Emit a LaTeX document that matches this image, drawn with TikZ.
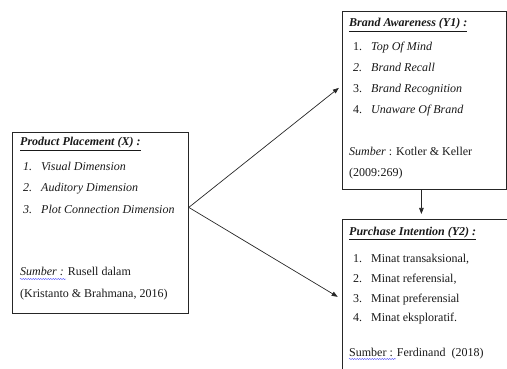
\documentclass[tikz,border=0pt]{standalone}
\usepackage{fontspec}
\setmainfont{Liberation Serif}
\usetikzlibrary{arrows.meta}
\usetikzlibrary{decorations.pathmorphing}

\newcommand{\itm}[2]{\makebox[18pt][l]{#1}#2}

\begin{document}
\begin{tikzpicture}[x=1pt,y=-1pt,font=\fontsize{12}{14}\selectfont,
  box/.style={draw=black!85,line width=0.8pt,anchor=north west,inner sep=0pt},
  txt/.style={anchor=base west,inner sep=0pt,text=black!90},
  arr/.style={-{Triangle[length=6pt,width=4.5pt]},line width=0.7pt,draw=black!85},
  wavy/.style={draw=blue!70,line width=0.4pt,decorate,
    decoration={snake,amplitude=0.6pt,segment length=2.5pt}}]
  \clip (0,0) rectangle (507,369);
  % the three boxes
  \node[box,minimum width=176pt,minimum height=181pt] (placement) at (12,132) {};
  \node[box,minimum width=164pt,minimum height=178pt] (awareness) at (342,11) {};
  \node[box,minimum width=170pt,minimum height=190pt] (intention) at (342,219) {};

  % X
  \node[txt] (px)  at (20,146) {\underline{\textbf{\textit{Product Placement (X) :}}}};
  \node[txt] (px1) at (23,171) {\itshape\itm{1.}{Visual Dimension}};
  \node[txt] (px2) at (23,192) {\itshape\itm{2.}{Auditory Dimension}};
  \node[txt] (px3) at (23,213) {\itshape\itm{3.}{Plot Connection Dimension}};
  \node[txt] (pxs) at (20,276) {\textit{Sumber :} Rusell dalam};
  \node[txt] (pxr) at (20,297) {(Kristanto \& Brahmana, 2016)};
  \draw[wavy] ([yshift=-3pt]pxs.base west) -- ++(46,0);

  % Y1
  \node[txt] (ya)  at (349,27)  {\underline{\textbf{\textit{Brand Awareness (Y1) :}}}};
  \node[txt] (ya1) at (353,51)  {\itm{1.}{\textit{Top Of Mind}}};
  \node[txt] (ya2) at (353,72)  {\itm{\textit{2.}}{\textit{Brand Recall}}};
  \node[txt] (ya3) at (353,93)  {\itm{3.}{\textit{Brand Recognition}}};
  \node[txt] (ya4) at (353,114) {\itm{4.}{\textit{Unaware Of Brand}}};
  \node[txt] (yas) at (349,156) {\textit{Sumber} : Kotler \& Keller};
  \node[txt] (yar) at (349,177) {(2009:269)};

  % Y2
  \node[txt] (yb)  at (349,235) {\underline{\textbf{\textit{Purchase Intention (Y2) :}}}};
  \node[txt] (yb1) at (353,262) {\itm{1.}{Minat transaksional,}};
  \node[txt] (yb2) at (353,283) {\itm{2.}{Minat referensial,}};
  \node[txt] (yb3) at (353,302) {\itm{3.}{Minat preferensial}};
  \node[txt] (yb4) at (353,321) {\itm{4.}{Minat eksploratif.}};
  \node[txt] (ybs) at (349,356) {Sumber : Ferdinand\ \ (2018)};
  \draw[wavy] ([yshift=-3pt]ybs.base west) -- ++(47,0);

  % arrows
  \coordinate (fork) at ([yshift=15.5pt]placement.east);
  \draw[arr,shorten >=4pt] (fork) -- ([yshift=15pt]awareness.west);
  \draw[arr,shorten >=5pt] (fork) -- ([yshift=15pt]intention.west);
  \draw[arr,shorten >=5pt] ([xshift=-3pt]awareness.south)
    -- ([xshift=-3pt]awareness.south |- intention.north);
\end{tikzpicture}
\end{document}
